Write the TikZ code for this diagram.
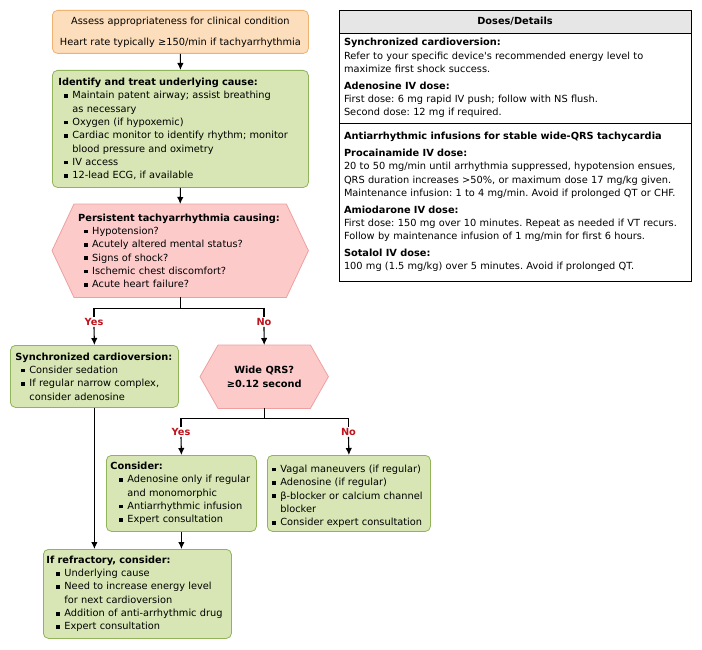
\documentclass[tikz,border=0pt]{standalone}
\usepackage{fontspec}
\setmainfont{DejaVu Sans}
\usetikzlibrary{arrows.meta,backgrounds}

\definecolor{peach}{RGB}{253,222,188}
\definecolor{peachline}{RGB}{240,178,112}
\definecolor{sage}{RGB}{215,230,180}
\definecolor{sageline}{RGB}{145,180,90}
\definecolor{rose}{RGB}{253,202,202}
\definecolor{roseline}{RGB}{238,160,160}
\definecolor{ynred}{RGB}{190,20,30}
\definecolor{headgray}{RGB}{230,230,230}

\newlength\bulletskip
\setlength\bulletskip{6bp}
\newcommand{\bitem}[1]{\par\hangindent=\dimexpr\bulletskip+8bp\relax\hangafter=1%
  \hspace*{\bulletskip}\makebox[8bp][l]{\rule[1bp]{3.6bp}{3.6bp}}#1\par}
\frenchspacing
\hyphenpenalty=10000
\exhyphenpenalty=10000

\begin{document}
\begin{tikzpicture}[x=1bp,y=-1bp,
  txt/.style={font=\fontsize{9.8bp}{13.3bp}\selectfont},
  flow/.style={txt,anchor=north west,rounded corners=5bp,line width=0.8bp,inner xsep=6bp,inner ysep=0pt,align=left},
  peachbox/.style={flow,draw=peachline,fill=peach,align=center,inner xsep=4bp},
  sagebox/.style={flow,draw=sageline,fill=sage},
  hexnode/.style={txt,anchor=north west,inner sep=0pt,align=left},
  hexfill/.style={draw=roseline,fill=rose,line width=0.8bp},
  yn/.style={font=\fontsize{9.8bp}{13.3bp}\selectfont\bfseries,text=ynred,inner sep=1bp},
  link/.style={line width=1.1bp},
  arr/.style={link,-{Latex[length=7bp,width=6.5bp]}},
  dosecell/.style={txt,anchor=north west,draw,line width=0.8bp,outer sep=0pt,inner xsep=5bp,text width=342bp,align=left},
  bullets/.style={execute at begin node={\setlength\bulletskip{#1}}}
]
\useasboundingbox (0,0) rectangle (702,650);

% left column: the flow chart
\node[peachbox,text width=248bp,minimum height=43bp] (assess) at (52,10)
  {Assess appropriateness for clinical condition\\[7.7bp]Heart rate typically ≥150/min if tachyarrhythmia};
\node[sagebox,text width=244bp,minimum height=117bp] (identify) at (52,70)
  {\textbf{Identify and treat underlying cause:}
   \bitem{Maintain patent airway; assist breathing\newline as necessary}
   \bitem{Oxygen (if hypoxemic)}
   \bitem{Cardiac monitor to identify rhythm; monitor\newline blood pressure and oximetry}
   \bitem{IV access}
   \bitem{12-lead ECG, if available}};
\node[hexnode,text width=204bp,minimum width=256bp,minimum height=93bp] (persist) at (52,204)
  {\textbf{Persistent tachyarrhythmia causing:}
   \bitem{Hypotension?}
   \bitem{Acutely altered mental status?}
   \bitem{Signs of shock?}
   \bitem{Ischemic chest discomfort?}
   \bitem{Acute heart failure?}};
\node[yn] (yes1) at (94,322) {Yes};
\node[yn] (no1) at (264,322) {No};

\node[sagebox,inner xsep=5bp,text width=158bp,minimum height=62bp] (sync) at (10,345)
  {\textbf{Synchronized cardioversion:}
   \bitem{Consider sedation}
   \bitem{If regular narrow complex,\newline consider adenosine}};
\node[hexnode,align=center,font=\fontsize{9.8bp}{13.3bp}\selectfont\bfseries,minimum width=128bp,minimum height=63bp] (wideqrs) at (200,345)
  {Wide QRS?\\≥0.12 second};
\node[yn] (yes2) at (181,432) {Yes};
\node[yn] (no2) at (348.5,432) {No};

\node[sagebox,bullets=9bp,inner xsep=4bp,text width=142bp,minimum height=76bp] (consider) at (106,455)
  {\textbf{Consider:}
   \bitem{Adenosine only if regular\newline and monomorphic}
   \bitem{Antiarrhythmic infusion}
   \bitem{Expert consultation}};
\node[sagebox,bullets=0bp,inner xsep=5bp,text width=153bp,minimum height=76bp] (noqrs) at (267,455)
  {\bitem{Vagal maneuvers (if regular)}
   \bitem{Adenosine (if regular)}
   \bitem{β-blocker or calcium channel\newline blocker}
   \bitem{Consider expert consultation}};
\node[sagebox,bullets=10bp,inner xsep=3bp,text width=182bp,minimum height=89bp] (refract) at (43,549)
  {\textbf{If refractory, consider:}
   \bitem{Underlying cause}
   \bitem{Need to increase energy level\newline for next cardioversion}
   \bitem{Addition of anti-arrhythmic drug}
   \bitem{Expert consultation}};

% hexagons behind the decision nodes
\begin{scope}[on background layer]
\foreach \hx/\tip in {persist/22,wideqrs/18}
  \draw[hexfill] ([xshift=\tip bp]\hx.north west) -- ([xshift=-\tip bp]\hx.north east) -- (\hx.east)
    -- ([xshift=-\tip bp]\hx.south east) -- ([xshift=\tip bp]\hx.south west) -- (\hx.west) -- cycle;
\end{scope}

\draw[arr] (assess.south) -- (identify.north);
\draw[arr] (identify.south) -- (persist.north);
\draw[link] (persist.south) -- ++(0,11) coordinate (fork1);
\draw[link] (yes1.north) |- (fork1) -| (no1.north);
\draw[arr] (yes1.south) -- (sync.north);
\draw[arr] (no1.south) -- (wideqrs.north);
\draw[link] (wideqrs.south) -- ++(0,10) coordinate (fork2);
\draw[link] (yes2.north) |- (fork2) -| (no2.north);
\draw[arr] (yes2.south) -- (consider.north);
\draw[arr] (no2.south) -- (noqrs.north);
\draw[arr] (sync.south) -- (sync.south |- refract.north);
\draw[arr] (consider.south) -- (consider.south |- refract.north);

% right column: doses table
\node[dosecell,fill=headgray,minimum height=23bp,font=\fontsize{9.8bp}{13.3bp}\selectfont\bfseries,align=center] (dosehead) at (339,10) {Doses/Details};
\node[dosecell,minimum height=90bp] (dosea) at (dosehead.south west)
  {\textbf{Synchronized cardioversion:}\\
   Refer to your specific device\textquotesingle s recommended energy level to\\maximize first shock success.\\[3.5bp]
   \textbf{Adenosine IV dose:}\\
   First dose: 6 mg rapid IV push; follow with NS flush.\\Second dose: 12 mg if required.};
\node[dosecell,minimum height=158bp] (doseb) at (dosea.south west)
  {\textbf{Antiarrhythmic infusions for stable wide-QRS tachycardia}\\[3.5bp]
   \textbf{Procainamide IV dose:}\\
   20 to 50 mg/min until arrhythmia suppressed, hypotension ensues,\\QRS duration increases >50\%, or maximum dose 17 mg/kg given.\\Maintenance infusion: 1 to 4 mg/min. Avoid if prolonged QT or CHF.\\[3.5bp]
   \textbf{Amiodarone IV dose:}\\
   First dose: 150 mg over 10 minutes. Repeat as needed if VT recurs.\\Follow by maintenance infusion of 1 mg/min for first 6 hours.\\[3.5bp]
   \textbf{Sotalol IV dose:}\\
   100 mg (1.5 mg/kg) over 5 minutes. Avoid if prolonged QT.};
\end{tikzpicture}
\end{document}
